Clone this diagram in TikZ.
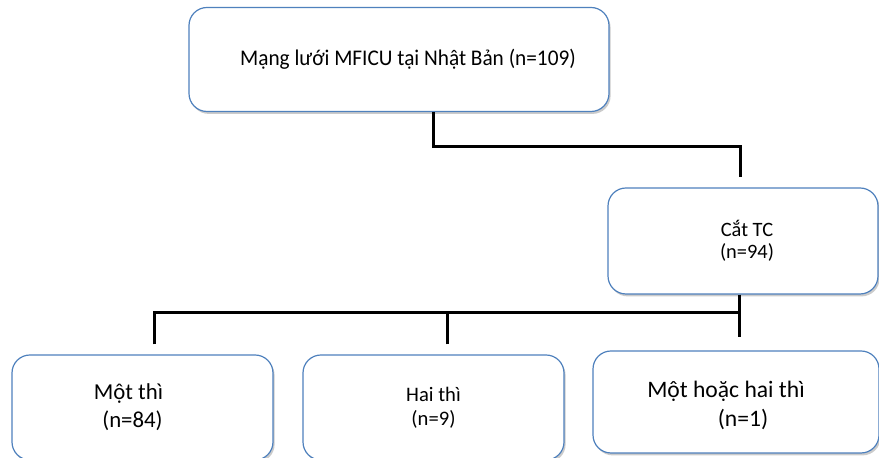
\documentclass[tikz,border=0pt]{standalone}
\usepackage{fontspec}
\setmainfont{Carlito}
\newfontfamily\titlefont[FakeStretch=0.95]{Carlito}
\usepackage{tikz}
\usetikzlibrary{shapes,arrows,positioning,shadows,calc,backgrounds}
\definecolor{boxline}{HTML}{4F81BD}

\begin{document}
\begin{tikzpicture}[
    x=0.5pt, y=-0.5pt,
    box/.style={draw=boxline, fill=white, rounded corners=9pt, line width=0.6pt, align=center,
        drop shadow={shadow xshift=0.8pt, shadow yshift=-1.2pt, fill=black!40, opacity=0.5}},
    conn/.style={line width=1.5pt, black}
]
    \fill[white] (0,0) rectangle (879,458);
    \useasboundingbox (0,0) rectangle (879,458);

    \node[box, minimum width=210pt, minimum height=52pt, font=\titlefont\fontsize{11.2}{13}\selectfont] (network) at (399,59.5) {\hspace*{9pt}Mạng lưới MFICU tại Nhật Bản (n=109)};
    \node[box, minimum width=135pt, minimum height=53pt, font=\fontsize{10.2}{11}\selectfont] (surgery) at (743,241) {\hspace*{4pt}Cắt TC\\\hspace*{4pt}(n=94)};
    \node[box, minimum width=130.5pt, minimum height=52.5pt, font=\fontsize{11.4}{14}\selectfont] (onestage) at (142.5,407.5) {\hspace*{-14pt}Một thì\\\hspace*{-10pt}(n=84)};
    \node[box, minimum width=130.5pt, minimum height=52.5pt, font=\fontsize{10.3}{12}\selectfont] (twostage) at (433.5,407.5) {Hai thì\\(n=9)};
    \node[box, minimum width=143pt, minimum height=51pt, font=\fontsize{11.8}{14.5}\selectfont] (either) at (736,402) {\raisebox{0pt}[\dimexpr\height+3.5pt\relax]{\hspace*{-10pt}Một hoặc hai thì}\\\hspace*{7pt}(n=1)};

    \draw[conn] ([xshift=17pt]network.south) -- ++(0,-17pt) -| ([shift={(-1.5pt,5pt)}]surgery.north);
    \draw[conn] ([xshift=-2pt]surgery.south) -- ++(0,-21pt);
    \draw[conn] ([shift={(6pt,5pt)}]onestage.north) |- ([shift={(-2pt,-9pt)}]surgery.south);
    \draw[conn] ([shift={(6.75pt,5pt)}]twostage.north) -- ++(0,16.5pt);
\end{tikzpicture}
\end{document}
